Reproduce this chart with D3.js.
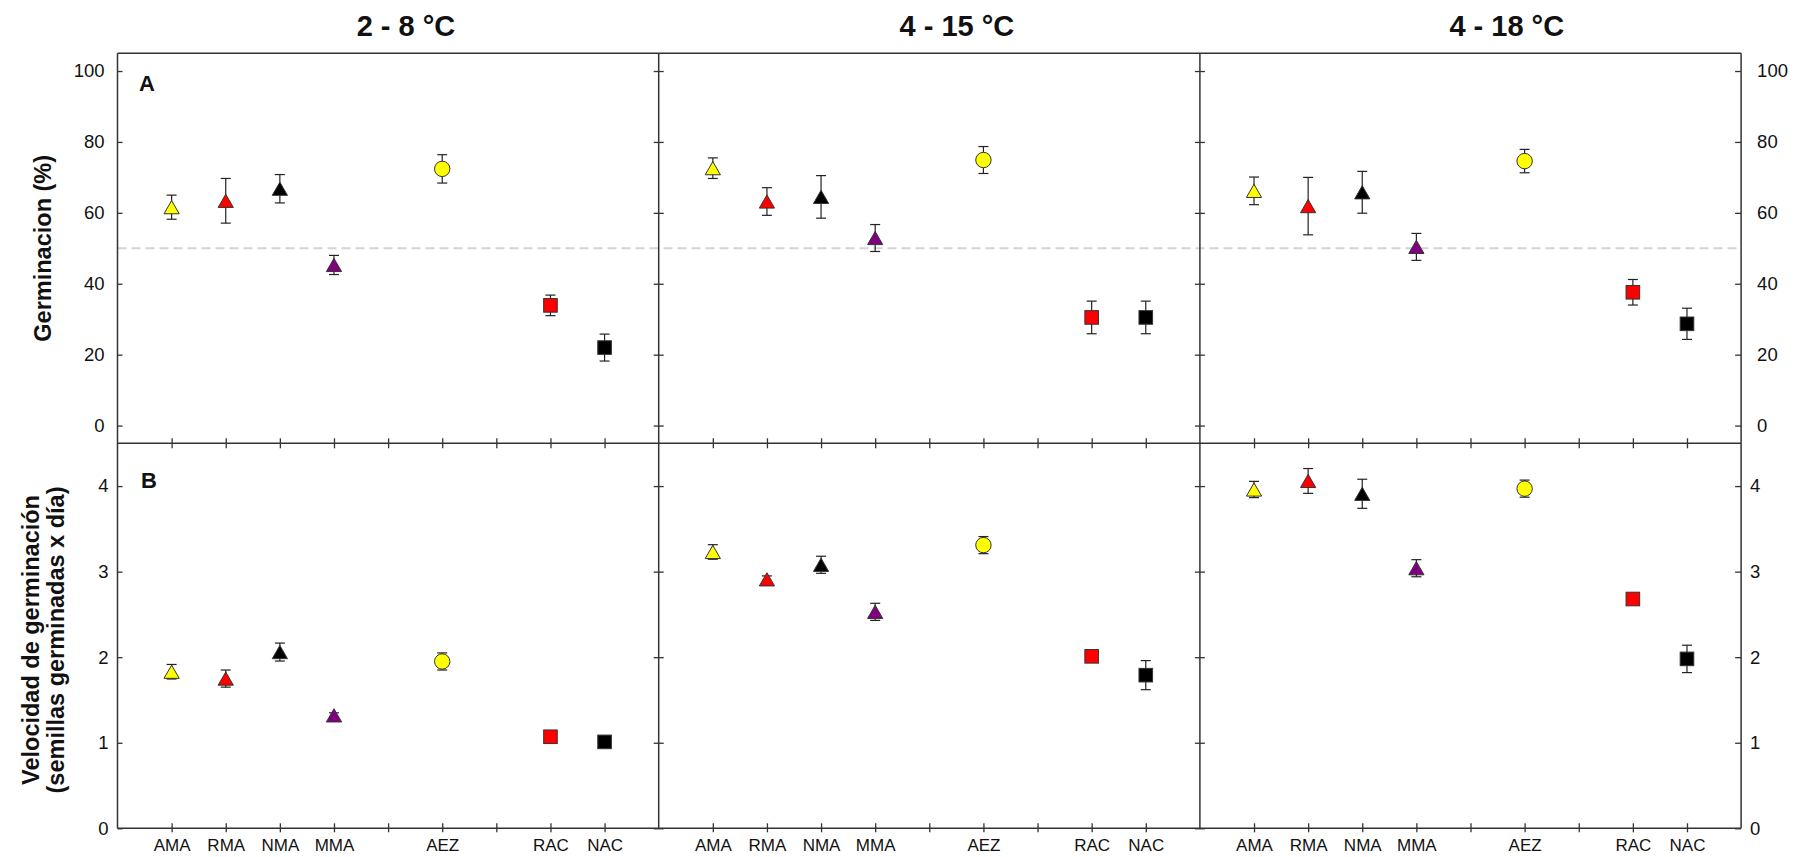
<!DOCTYPE html>
<html>
<head>
<meta charset="utf-8">
<script src="https://cdn.jsdelivr.net/npm/d3@7"></script>
<style>
  html, body { margin: 0; padding: 0; background: #fff; }
  svg { display: block; }
  text { font-family: Arial, "Liberation Sans", sans-serif; fill: #111; }
</style>
</head>
<body>
<svg id="chart" width="1807" height="857"></svg>
<script>
// Temperature regimes (one column of panels each)
const temperatures = ["2 - 8 °C", "4 - 15 °C", "4 - 18 °C"];

// Populations, in axis slot order; the blank slots keep the gaps between groups
const slots = ["AMA", "RMA", "NMA", "MMA", "gap1", "AEZ", "gap2", "RAC", "NAC"];
const categories = ["AMA", "RMA", "NMA", "MMA", "AEZ", "RAC", "NAC"];
const markerShapes = ["triangle", "triangle", "triangle", "triangle", "circle", "square", "square"];
const markerColors = ["#ffff00", "#ff0000", "#000000", "#800080", "#ffff00", "#ff0000", "#000000"];

// A: germination (%)
const germ_2_8 = [61.6, 63.4, 66.8, 45.3, 72.4, 33.9, 22.0];
const germ_2_8_se = [3.4, 6.3, 4.0, 2.7, 4.0, 2.9, 3.8];
const germ_4_15 = [72.6, 63.2, 64.5, 52.9, 74.9, 30.5, 30.5];
const germ_4_15_se = [2.9, 3.9, 6.0, 3.8, 3.8, 4.6, 4.6];
const germ_4_18 = [66.2, 61.9, 65.8, 50.4, 74.6, 37.6, 28.7];
const germ_4_18_se = [3.9, 8.1, 5.9, 3.8, 3.3, 3.6, 4.4];

// B: germination speed (seeds germinated per day)
const vel_2_8 = [1.83, 1.75, 2.06, 1.32, 1.95, 1.07, 1.01];
const vel_2_8_se = [0.085, 0.10, 0.105, 0.03, 0.10, 0.03, 0.02];
const vel_4_15 = [3.23, 2.91, 3.08, 2.53, 3.31, 2.01, 1.79];
const vel_4_15_se = [0.085, 0.04, 0.10, 0.10, 0.10, 0.03, 0.17];
const vel_4_18 = [3.96, 4.06, 3.91, 3.04, 3.97, 2.68, 1.98];
const vel_4_18_se = [0.095, 0.145, 0.17, 0.10, 0.10, 0.03, 0.16];

const germTicks = [0, 20, 40, 60, 80, 100];
const velTicks = [0, 1, 2, 3, 4];
const germReference = 50;

const germSeries = [germ_2_8, germ_4_15, germ_4_18];
const germErrors = [germ_2_8_se, germ_4_15_se, germ_4_18_se];
const velSeries = [vel_2_8, vel_4_15, vel_4_18];
const velErrors = [vel_2_8_se, vel_4_15_se, vel_4_18_se];

// ---- layout ----
const svg = d3.select("#chart");
const plotLeft = 117.5, plotTop = 53.3, plotMid = 443.3, plotBottom = 828.3;
const panelW = 541.2;
const plotRight = plotLeft + panelW * 3;
const titleShift = [0.533, 0.551, 0.567];
const lineColor = "#333";
const intFmt = d3.format("d");

const yA = d3.scaleLinear().domain([-5, 105]).range([plotMid, plotTop]);
const yB = d3.scaleLinear().domain([0, 4.5]).range([plotBottom, plotMid]);

const xScales = temperatures.map((t, p) =>
  d3.scalePoint().domain(slots).range([plotLeft + p * panelW, plotLeft + (p + 1) * panelW]).padding(1)
);

function styleAxis(g) {
  g.select(".domain").remove();
  g.selectAll(".tick line").attr("stroke", lineColor).attr("stroke-width", 1.3);
  return g;
}

// reference line at 50 % germination
svg.append("line")
  .attr("x1", plotLeft).attr("x2", plotRight)
  .attr("y1", yA(germReference)).attr("y2", yA(germReference))
  .attr("stroke", "#d4d4d4").attr("stroke-width", 2)
  .attr("stroke-dasharray", "9,5");

// ---- axes and ticks ----
// outer left axis (ticks point inwards, labels outside)
styleAxis(svg.append("g").attr("transform", `translate(${plotLeft},0)`)
  .call(d3.axisLeft(yA).tickValues(germTicks).tickFormat(intFmt).tickSizeInner(-5).tickSizeOuter(0).tickPadding(13)))
  .selectAll("text").style("font-size", "18.5px");
styleAxis(svg.append("g").attr("transform", `translate(${plotLeft},0)`)
  .call(d3.axisLeft(yB).tickValues(velTicks).tickFormat(intFmt).tickSizeInner(-5).tickSizeOuter(0).tickPadding(9)))
  .selectAll("text").style("font-size", "18.5px");

// outer right axis
styleAxis(svg.append("g").attr("transform", `translate(${plotRight},0)`)
  .call(d3.axisRight(yA).tickValues(germTicks).tickFormat(intFmt).tickSizeInner(-6).tickSizeOuter(0).tickPadding(16)))
  .selectAll("text").style("font-size", "18.5px");
styleAxis(svg.append("g").attr("transform", `translate(${plotRight},0)`)
  .call(d3.axisRight(yB).tickValues(velTicks).tickFormat(intFmt).tickSizeInner(-6).tickSizeOuter(0).tickPadding(9)))
  .selectAll("text").style("font-size", "18.5px");

// panel dividers: ticks on both sides, no labels
for (let p = 1; p < temperatures.length; p++) {
  const xd = plotLeft + p * panelW;
  [yA, yB].forEach((ys, k) => {
    const tv = k === 0 ? germTicks : velTicks;
    styleAxis(svg.append("g").attr("transform", `translate(${xd},0)`)
      .call(d3.axisLeft(ys).tickValues(tv).tickSize(5).tickFormat("")));
    styleAxis(svg.append("g").attr("transform", `translate(${xd},0)`)
      .call(d3.axisRight(ys).tickValues(tv).tickSize(5).tickFormat("")));
  });
}

// x ticks: between the two rows and along the bottom
xScales.forEach(xs => {
  styleAxis(svg.append("g").attr("transform", `translate(0,${plotMid})`)
    .call(d3.axisBottom(xs).tickSize(5).tickFormat("")));
  styleAxis(svg.append("g").attr("transform", `translate(0,${plotMid})`)
    .call(d3.axisTop(xs).tickSize(5).tickFormat("")));
  styleAxis(svg.append("g").attr("transform", `translate(0,${plotBottom})`)
    .call(d3.axisTop(xs).tickSize(5).tickFormat("")));
  styleAxis(svg.append("g").attr("transform", `translate(0,${plotBottom})`)
    .call(d3.axisBottom(xs).tickSizeInner(4).tickSizeOuter(0).tickPadding(7)
      .tickFormat(d => categories.includes(d) ? d : "")))
    .selectAll("text").style("font-size", "17px");
});

// frame lines
const frame = svg.append("g").attr("stroke", lineColor).attr("stroke-width", 1.5);
[plotTop, plotMid, plotBottom].forEach(y =>
  frame.append("line").attr("x1", plotLeft).attr("x2", plotRight).attr("y1", y).attr("y2", y));
d3.range(temperatures.length + 1).forEach(p => {
  const xv = plotLeft + p * panelW;
  frame.append("line").attr("x1", xv).attr("x2", xv).attr("y1", plotTop).attr("y2", plotBottom);
});

// ---- data marks ----
function drawMarker(g, shape, cx, cy, fill) {
  if (shape === "circle") {
    g.append("circle").attr("cx", cx).attr("cy", cy).attr("r", 7.7)
      .attr("fill", fill).attr("stroke", "#333").attr("stroke-width", 1);
  } else if (shape === "square") {
    g.append("rect").attr("x", cx - 6.8).attr("y", cy - 6.8).attr("width", 13.6).attr("height", 13.6)
      .attr("fill", fill).attr("stroke", "#333").attr("stroke-width", 1);
  } else {
    const tri = d3.path();
    tri.moveTo(cx - 7.6, cy + 6.6);
    tri.lineTo(cx, cy - 6.6);
    tri.lineTo(cx + 7.6, cy + 6.6);
    tri.closePath();
    g.append("path").attr("d", tri.toString())
      .attr("fill", fill).attr("stroke", "#333").attr("stroke-width", 1);
  }
}

function drawSeries(values, errors, xs, ys) {
  const g = svg.append("g");
  categories.forEach((c, i) => {
    const cx = xs(c);
    const lo = ys(values[i] - errors[i]);
    const hi = ys(values[i] + errors[i]);
    const eb = g.append("g").attr("stroke", "#222").attr("stroke-width", 1.2);
    eb.append("line").attr("x1", cx).attr("x2", cx).attr("y1", lo).attr("y2", hi);
    eb.append("line").attr("x1", cx - 5).attr("x2", cx + 5).attr("y1", lo).attr("y2", lo);
    eb.append("line").attr("x1", cx - 5).attr("x2", cx + 5).attr("y1", hi).attr("y2", hi);
  });
  categories.forEach((c, i) => {
    drawMarker(g, markerShapes[i], xs(c), ys(values[i]), markerColors[i]);
  });
}

temperatures.forEach((t, p) => {
  drawSeries(germSeries[p], germErrors[p], xScales[p], yA);
  drawSeries(velSeries[p], velErrors[p], xScales[p], yB);

  svg.append("text")
    .attr("x", plotLeft + p * panelW + panelW * titleShift[p])
    .attr("y", 36)
    .attr("text-anchor", "middle")
    .style("font-size", "29px").style("font-weight", "bold")
    .text(t);
});

// panel letters
svg.append("text").attr("x", 139).attr("y", 91)
  .style("font-size", "22px").style("font-weight", "bold").text("A");
svg.append("text").attr("x", 141).attr("y", 488)
  .style("font-size", "22px").style("font-weight", "bold").text("B");

// y-axis titles
svg.append("text")
  .attr("transform", `translate(51,${(plotTop + plotMid) / 2}) rotate(-90)`)
  .attr("text-anchor", "middle")
  .style("font-size", "23.5px").style("font-weight", "bold")
  .text("Germinacion (%)");

const velTitle = svg.append("text")
  .attr("transform", `translate(0,640) rotate(-90)`)
  .attr("text-anchor", "middle")
  .style("font-size", "23.5px").style("font-weight", "bold");
velTitle.append("tspan").attr("x", 0).attr("y", 39).text("Velocidad de germinación");
velTitle.append("tspan").attr("x", 0).attr("y", 64).text("(semillas germinadas x día)");
</script>
</body>
</html>
